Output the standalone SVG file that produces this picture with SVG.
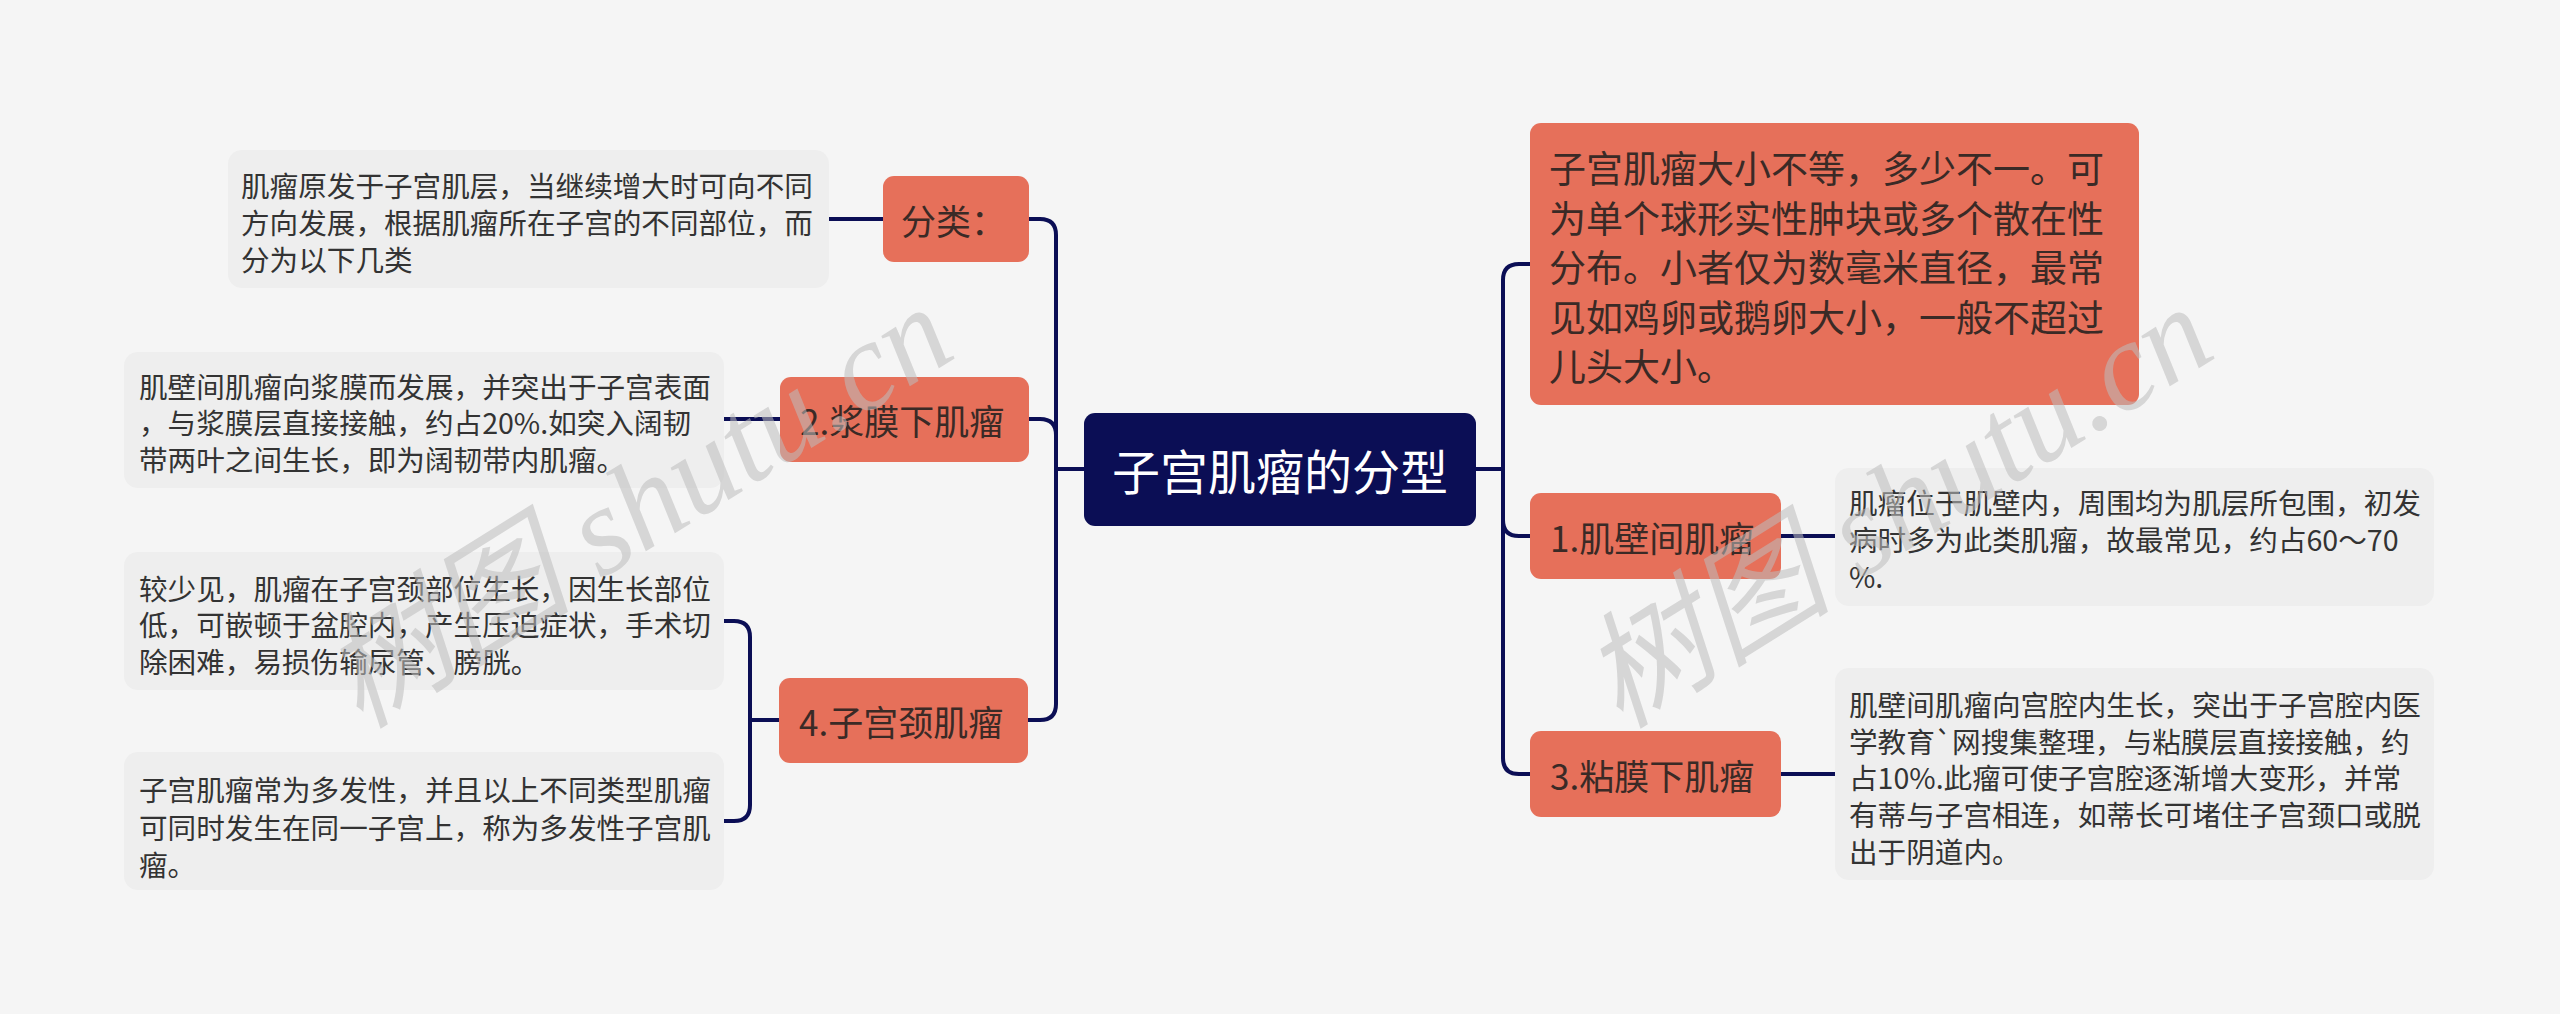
<svg xmlns="http://www.w3.org/2000/svg" width="2560" height="1014" viewBox="0 0 2560 1014">
<style>
.bg{fill:#f5f5f5}
.main{fill:#0b0e55}
.topic{fill:#e6705a}
.note{fill:#eeeeee}
.conn{fill:none;stroke:#0b0e55;stroke-width:4;stroke-linecap:round}
.t{font-family:"Noto Sans CJK SC","Noto Sans",sans-serif;dominant-baseline:central}
.mt{font-size:48px;fill:#ffffff}
.tt{font-size:35px;fill:#3a2a26}
.bt{font-size:37px;fill:#3a2a26}
.nt{font-size:28.6px;fill:#333333}
.wm{font-family:"Liberation Serif","Noto Sans CJK SC",serif;font-style:italic;font-size:126px;fill:#bdbdbd;opacity:0.55}
</style>
<rect class="bg" x="0" y="0" width="2560" height="1014"/>

<g id="connectors">
  <path class="conn" d="M1476,469 H1503 V280 Q1503,264 1519,264 H1530"/>
  <path class="conn" d="M1476,469 H1503 V520 Q1503,536 1519,536 H1530"/>
  <path class="conn" d="M1476,469 H1503 V758 Q1503,774 1519,774 H1530"/>
  <path class="conn" d="M1781,536 H1835"/>
  <path class="conn" d="M1781,774 H1835"/>
  <path class="conn" d="M1084,469 H1056 V235 Q1056,219 1040,219 H1029"/>
  <path class="conn" d="M1084,469 H1056 V435 Q1056,419 1040,419 H1029"/>
  <path class="conn" d="M1084,469 H1056 V704 Q1056,720 1040,720 H1028"/>
  <path class="conn" d="M883,219 H829"/>
  <path class="conn" d="M780,419 H724"/>
  <path class="conn" d="M779,720 H750 V637 Q750,621 734,621 H724"/>
  <path class="conn" d="M779,720 H750 V805 Q750,821 734,821 H724"/>
</g>

<g id="root">
  <rect class="main" x="1084" y="413" width="392" height="113" rx="11"/>
  <text class="t mt" x="1280" y="469" text-anchor="middle">子宫肌瘤的分型</text>
</g>

<g id="node-size">
  <rect class="topic" x="1530" y="123" width="609" height="282" rx="11"/>
  <text class="t bt" x="1549" y="167">子宫肌瘤大小不等，多少不一。可</text>
  <text class="t bt" x="1549" y="216.5">为单个球形实性肿块或多个散在性</text>
  <text class="t bt" x="1549" y="266">分布。小者仅为数毫米直径，最常</text>
  <text class="t bt" x="1549" y="315.5">见如鸡卵或鹅卵大小，一般不超过</text>
  <text class="t bt" x="1549" y="365">儿头大小。</text>
</g>

<g id="node-1">
  <rect class="topic" x="1530" y="493" width="251" height="86" rx="11"/>
  <text class="t tt" x="1550" y="536">1.肌壁间肌瘤</text>
</g>
<g id="note-1">
  <rect class="note" x="1835" y="468" width="599" height="138" rx="14"/>
  <text class="t nt" x="1849" y="501">肌瘤位于肌壁内，周围均为肌层所包围，初发</text>
  <text class="t nt" x="1849" y="538">病时多为此类肌瘤，故最常见，约占60～70</text>
  <text class="t nt" x="1849" y="575">%.</text>
</g>

<g id="node-3">
  <rect class="topic" x="1530" y="731" width="251" height="86" rx="11"/>
  <text class="t tt" x="1550" y="774">3.粘膜下肌瘤</text>
</g>
<g id="note-3">
  <rect class="note" x="1835" y="668" width="599" height="212" rx="14"/>
  <text class="t nt" x="1849" y="703">肌壁间肌瘤向宫腔内生长，突出于子宫腔内医</text>
  <text class="t nt" x="1849" y="740">学教育`网搜集整理，与粘膜层直接接触，约</text>
  <text class="t nt" x="1849" y="776.5">占10%.此瘤可使子宫腔逐渐增大变形，并常</text>
  <text class="t nt" x="1849" y="813">有蒂与子宫相连，如蒂长可堵住子宫颈口或脱</text>
  <text class="t nt" x="1849" y="850">出于阴道内。</text>
</g>

<g id="node-class">
  <rect class="topic" x="883" y="176" width="146" height="86" rx="11"/>
  <text class="t tt" x="901" y="219">分类：</text>
</g>
<g id="note-class">
  <rect class="note" x="228" y="150" width="601" height="138" rx="14"/>
  <text class="t nt" x="241" y="184">肌瘤原发于子宫肌层，当继续增大时可向不同</text>
  <text class="t nt" x="241" y="221">方向发展，根据肌瘤所在子宫的不同部位，而</text>
  <text class="t nt" x="241" y="258">分为以下几类</text>
</g>

<g id="node-2">
  <rect class="topic" x="780" y="377" width="249" height="85" rx="11"/>
  <text class="t tt" x="800" y="419.5">2.浆膜下肌瘤</text>
</g>
<g id="note-2">
  <rect class="note" x="124" y="352" width="600" height="136" rx="14"/>
  <text class="t nt" x="139" y="385">肌壁间肌瘤向浆膜而发展，并突出于子宫表面</text>
  <text class="t nt" x="139" y="421.5">，与浆膜层直接接触，约占20%.如突入阔韧</text>
  <text class="t nt" x="139" y="458">带两叶之间生长，即为阔韧带内肌瘤。</text>
</g>

<g id="node-4">
  <rect class="topic" x="779" y="678" width="249" height="85" rx="11"/>
  <text class="t tt" x="799" y="720.5">4.子宫颈肌瘤</text>
</g>
<g id="note-4a">
  <rect class="note" x="124" y="552" width="600" height="138" rx="14"/>
  <text class="t nt" x="139" y="587">较少见，肌瘤在子宫颈部位生长，因生长部位</text>
  <text class="t nt" x="139" y="623.5">低，可嵌顿于盆腔内，产生压迫症状，手术切</text>
  <text class="t nt" x="139" y="660">除困难，易损伤输尿管、膀胱。</text>
</g>
<g id="note-4b">
  <rect class="note" x="124" y="752" width="600" height="138" rx="14"/>
  <text class="t nt" x="139" y="788">子宫肌瘤常为多发性，并且以上不同类型肌瘤</text>
  <text class="t nt" x="139" y="826">可同时发生在同一子宫上，称为多发性子宫肌</text>
  <text class="t nt" x="139" y="863">瘤。</text>
</g>

<g id="watermark">
  <text class="wm" transform="translate(360,730) rotate(-32)">树图 shutu.cn</text>
  <text class="wm" transform="translate(1620,730) rotate(-32)">树图 shutu.cn</text>
</g>
</svg>
